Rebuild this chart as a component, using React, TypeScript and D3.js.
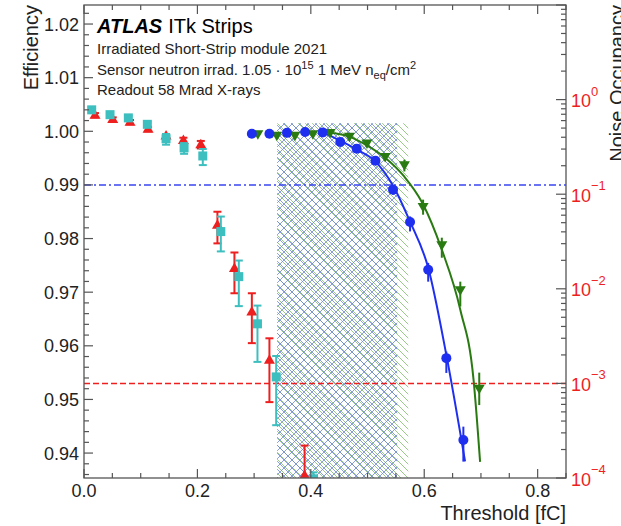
import React from 'react';
import * as d3 from 'd3';

const W = 621;
const H = 526;
const PL = 84, PR = 566, PT = 5, PB = 478;

// Axis ticks
const xMajor = [0, 0.2, 0.4, 0.6, 0.8];
const xMajorLabels = ['0.0', '0.2', '0.4', '0.6', '0.8'];
const yMajor = [0.94, 0.95, 0.96, 0.97, 0.98, 0.99, 1.0, 1.01, 1.02];
const yMajorLabels = ['0.94', '0.95', '0.96', '0.97', '0.98', '0.99', '1.00', '1.01', '1.02'];
const rightExps = [-4, -3, -2, -1, 0];
const rightExpLabels = ['\u22124', '\u22123', '\u22122', '\u22121', '0'];

// Efficiency: cyan squares
const cyanX = [0.0136, 0.0459, 0.0782, 0.1117, 0.1447, 0.1765, 0.2095, 0.2413, 0.273, 0.3059, 0.3389, 0.4047];
const cyanY = [1.004, 1.0031, 1.0025, 1.0013, 0.9986, 0.9969, 0.9954, 0.9813, 0.9729, 0.9641, 0.9542, 0.9352];
const cyanErrHi = [0.0005, 0.0004, 0.0004, 0.0004, 0.0009, 0.0009, 0.0013, 0.0028, 0.003, 0.0034, 0.0039, 0.0012];
const cyanErrLo = [0.0005, 0.0004, 0.0004, 0.0004, 0.0011, 0.0011, 0.0017, 0.0037, 0.0055, 0.0071, 0.009, 0.01];

// Efficiency: red triangles
const redX = [0.0194, 0.0507, 0.0812, 0.113, 0.1447, 0.1753, 0.206, 0.2353, 0.2653, 0.296, 0.327, 0.389];
const redY = [1.003, 1.0022, 1.0017, 1.0004, 0.9991, 0.9983, 0.9975, 0.9825, 0.9744, 0.9663, 0.9573, 0.9358];
const redErrHi = [0.0004, 0.0004, 0.0004, 0.0004, 0.0004, 0.0005, 0.0007, 0.0025, 0.003, 0.0035, 0.0041, 0.0056];
const redErrLo = [0.0004, 0.0004, 0.0004, 0.0004, 0.0004, 0.0005, 0.0007, 0.0034, 0.0046, 0.0058, 0.0078, 0.01];

// Noise occupancy: blue circles
const blueX = [0.296, 0.327, 0.358, 0.39, 0.421, 0.452, 0.481, 0.514, 0.545, 0.575, 0.607, 0.639, 0.669];
const blueY = [0.436, 0.436, 0.445, 0.455, 0.45, 0.356, 0.303, 0.226, 0.1117, 0.0508, 0.0159, 0.00185, 0.000252];
const blueHi = [0.436, 0.436, 0.445, 0.455, 0.45, 0.356, 0.303, 0.226, 0.123, 0.0582, 0.0188, 0.00217, 0.000349];
const blueLo = [0.436, 0.436, 0.445, 0.455, 0.45, 0.356, 0.303, 0.226, 0.0988, 0.0404, 0.0119, 0.00129, 0.000149];

// Noise occupancy: green triangles
const greenX = [0.3066, 0.34, 0.372, 0.4036, 0.434, 0.468, 0.499, 0.531, 0.565, 0.598, 0.631, 0.6636, 0.697];
const greenY = [0.436, 0.421, 0.421, 0.436, 0.45, 0.411, 0.348, 0.251, 0.205, 0.0743, 0.0292, 0.00975, 0.000889];
const greenHi = [0.436, 0.421, 0.421, 0.436, 0.45, 0.411, 0.348, 0.251, 0.2318, 0.0876, 0.0347, 0.0119, 0.0013];
const greenLo = [0.436, 0.421, 0.421, 0.436, 0.45, 0.411, 0.348, 0.251, 0.174, 0.0607, 0.0213, 0.0065, 0.00059];

// Fit curves
const blueFitX = [0.421, 0.452, 0.481, 0.514, 0.545, 0.575, 0.607, 0.639, 0.672];
const blueFitY = [0.45, 0.368, 0.296, 0.221, 0.123, 0.0512, 0.0167, 0.002, 0.00015];
const greenFitX = [0.434, 0.468, 0.4995, 0.531, 0.565, 0.5965, 0.631, 0.6636, 0.687, 0.6985];
const greenFitY = [0.445, 0.406, 0.326, 0.243, 0.153, 0.0813, 0.0259, 0.006, 0.00109, 0.000148];

// Shaded threshold windows
const hatchStart = 0.3406;
const blueHatchEnd = 0.5524;
const greenHatchEnd = 0.5718;
const hatchTop = 1.0015;

// Reference lines
const effRef = 0.99;
const noiseRef = 1e-3;

const FONT = '"Liberation Sans", Arial, Helvetica, sans-serif';
const CYAN = '#3dbfbf';
const RED = '#ee1f1f';
const BLUE = '#1f2ff0';
const GREEN = '#2a7a12';
const FRAME = '#555555';

export default function App() {
  const x = d3.scaleLinear().domain([0, 0.85]).range([PL, PR]);
  const yL = d3.scaleLinear().domain([0.93535, 1.02355]).range([PB, PT]);
  const yR = d3.scaleLog().domain([1e-4, 10]).range([PB, PT]);

  const xMinor = d3.range(0, 0.851, 0.05).filter((v) => !xMajor.some((m) => Math.abs(m - v) < 1e-6));
  const yMinor = d3.range(0.936, 1.0235, 0.002).filter((v) => !yMajor.some((m) => Math.abs(m - v) < 1e-6));
  const rMinor: number[] = [];
  for (let e = -4; e < 1; e++) for (let k = 2; k <= 9; k++) rMinor.push(k * Math.pow(10, e));

  const lineGen = d3
    .line<[number, number]>()
    .x((d) => x(d[0]))
    .y((d) => yR(d[1]))
    .curve(d3.curveMonotoneX);

  const blueFit = lineGen(blueFitX.map((v, i) => [v, blueFitY[i]] as [number, number])) || '';
  const greenFit = lineGen(greenFitX.map((v, i) => [v, greenFitY[i]] as [number, number])) || '';

  const cap = 4;
  const tri = (cx: number, cy: number, up: boolean) => {
    const s = up ? 1 : -1;
    return `M${cx},${cy - 6 * s}L${cx + 5.5},${cy + 3.5 * s}L${cx - 5.5},${cy + 3.5 * s}Z`;
  };

  const hx0 = x(hatchStart);
  const hy0 = yL(hatchTop);

  return (
    <svg width={W} height={H} style={{ position: 'absolute', left: 0, top: 0, background: '#fff' }} fontFamily={FONT}>
      <defs>
        <clipPath id="plotClip">
          <rect x={PL} y={PT} width={PR - PL} height={PB - PT} />
        </clipPath>
        <pattern id="greenHatch" patternUnits="userSpaceOnUse" width={7} height={7}>
          <path d="M0,0L7,7M-1,6L1,8M6,-1L8,1" stroke="#8cc47a" strokeWidth={0.9} fill="none" />
        </pattern>
        <pattern id="blueCross" patternUnits="userSpaceOnUse" width={8} height={8}>
          <path d="M0,0L8,8M0,8L8,0" stroke="#6a84d2" strokeWidth={0.8} fill="none" />
        </pattern>
      </defs>

      <g clipPath="url(#plotClip)">
        {/* hatched regions */}
        <rect x={hx0} y={hy0} width={x(greenHatchEnd) - hx0} height={PB - hy0} fill="url(#greenHatch)" />
        <rect x={hx0} y={hy0} width={x(blueHatchEnd) - hx0} height={PB - hy0} fill="url(#blueCross)" />

        {/* reference lines */}
        <line x1={PL} x2={PR} y1={yL(effRef)} y2={yL(effRef)} stroke="#3a46f0" strokeWidth={1.5} strokeDasharray="7,3,2,3" />
        <line x1={PL} x2={PR} y1={yR(noiseRef)} y2={yR(noiseRef)} stroke={RED} strokeWidth={1.5} strokeDasharray="6,3" />

        {/* fits */}
        <path d={blueFit} fill="none" stroke={BLUE} strokeWidth={2} />
        <path d={greenFit} fill="none" stroke={GREEN} strokeWidth={2} />

        {/* red triangles */}
        {redX.map((v, i) => {
          const cx = x(v);
          const y1 = yL(redY[i] + redErrHi[i]);
          const y2 = yL(redY[i] - redErrLo[i]);
          return (
            <g key={'r' + i} stroke={RED} strokeWidth={2}>
              <line x1={cx} x2={cx} y1={y1} y2={y2} />
              <line x1={cx - cap} x2={cx + cap} y1={y1} y2={y1} />
              <line x1={cx - cap} x2={cx + cap} y1={y2} y2={y2} />
              <path d={tri(cx, yL(redY[i]), true)} fill={RED} stroke="none" />
            </g>
          );
        })}

        {/* cyan squares */}
        {cyanX.map((v, i) => {
          const cx = x(v);
          const y1 = yL(cyanY[i] + cyanErrHi[i]);
          const y2 = yL(cyanY[i] - cyanErrLo[i]);
          const cy = yL(cyanY[i]);
          return (
            <g key={'c' + i} stroke={CYAN} strokeWidth={2}>
              <line x1={cx} x2={cx} y1={y1} y2={y2} />
              <line x1={cx - cap} x2={cx + cap} y1={y1} y2={y1} />
              <line x1={cx - cap} x2={cx + cap} y1={y2} y2={y2} />
              <rect x={cx - 4.5} y={cy - 4.5} width={9} height={9} fill={CYAN} stroke="none" />
            </g>
          );
        })}

        {/* green triangles */}
        {greenX.map((v, i) => {
          const cx = x(v);
          return (
            <g key={'g' + i}>
              <line x1={cx} x2={cx} y1={yR(greenHi[i])} y2={yR(greenLo[i])} stroke={GREEN} strokeWidth={2} />
              <path d={tri(cx, yR(greenY[i]), false)} fill={GREEN} />
            </g>
          );
        })}

        {/* blue circles */}
        {blueX.map((v, i) => {
          const cx = x(v);
          return (
            <g key={'b' + i}>
              <line x1={cx} x2={cx} y1={yR(blueHi[i])} y2={yR(blueLo[i])} stroke={BLUE} strokeWidth={2} />
              <circle cx={cx} cy={yR(blueY[i])} r={5} fill={BLUE} />
            </g>
          );
        })}
      </g>

      {/* frame */}
      <rect x={PL} y={PT} width={PR - PL} height={PB - PT} fill="none" stroke={FRAME} strokeWidth={1.3} />

      {/* x ticks bottom & top */}
      {xMajor.map((v) => (
        <g key={'xm' + v} stroke={FRAME} strokeWidth={1.2}>
          <line x1={x(v)} x2={x(v)} y1={PB} y2={PB - 9} />
          <line x1={x(v)} x2={x(v)} y1={PT} y2={PT + 9} />
        </g>
      ))}
      {xMinor.map((v) => (
        <g key={'xn' + v} stroke={FRAME} strokeWidth={1.2}>
          <line x1={x(v)} x2={x(v)} y1={PB} y2={PB - 5} />
          <line x1={x(v)} x2={x(v)} y1={PT} y2={PT + 5} />
        </g>
      ))}
      {xMajor.map((v, i) => (
        <text key={'xl' + v} x={x(v)} y={497} fontSize={18} textAnchor="middle" fill="#222">
          {xMajorLabels[i]}
        </text>
      ))}
      <text x={PR} y={520} fontSize={20} textAnchor="end" fill="#222">
        Threshold [fC]
      </text>

      {/* left ticks */}
      {yMajor.map((v, i) => (
        <g key={'yl' + v}>
          <line x1={PL} x2={PL + 9} y1={yL(v)} y2={yL(v)} stroke={FRAME} strokeWidth={1.2} />
          <text x={79} y={yL(v) + 6.5} fontSize={18} textAnchor="end" fill="#222">
            {yMajorLabels[i]}
          </text>
        </g>
      ))}
      {yMinor.map((v) => (
        <line key={'yn' + v} x1={PL} x2={PL + 5} y1={yL(v)} y2={yL(v)} stroke={FRAME} strokeWidth={1.2} />
      ))}
      <text transform="translate(38,5) rotate(-90)" fontSize={20} textAnchor="end" fill="#222">
        Efficiency
      </text>

      {/* right log ticks */}
      {[-4, -3, -2, -1, 0, 1].map((e) => (
        <line key={'rm' + e} x1={PR} x2={PR - 10} y1={yR(Math.pow(10, e))} y2={yR(Math.pow(10, e))} stroke={FRAME} strokeWidth={1.2} />
      ))}
      {rMinor.map((v, i) => (
        <line key={'rn' + i} x1={PR} x2={PR - 5} y1={yR(v)} y2={yR(v)} stroke={FRAME} strokeWidth={1.2} />
      ))}
      {rightExps.map((e, i) => (
        <g key={'rl' + e} fill={RED}>
          <text x={571} y={yR(Math.pow(10, e)) + 7.5} fontSize={18}>
            10
          </text>
          <text x={591} y={yR(Math.pow(10, e)) - 4} fontSize={13}>
            {rightExpLabels[i]}
          </text>
        </g>
      ))}
      <text transform="translate(624,5) rotate(-90)" fontSize={20} textAnchor="end" fill="#222">
        Noise Occupancy
      </text>

      {/* labels */}
      <text x={97} y={33} fontSize={20} fill="#000">
        <tspan fontWeight="bold" fontStyle="italic">ATLAS</tspan>
        <tspan dx={6}>ITk Strips</tspan>
      </text>
      <text x={97} y={54} fontSize={15} fill="#222">
        Irradiated Short-Strip module 2021
      </text>
      <text x={97} y={74.5} fontSize={15} fill="#222">
        <tspan>Sensor neutron irrad. 1.05 · 10</tspan>
        <tspan fontSize={11} dy={-6}>15</tspan>
        <tspan dy={6}> 1 MeV n</tspan>
        <tspan fontSize={11} dy={4}>eq</tspan>
        <tspan dy={-4}>/cm</tspan>
        <tspan fontSize={11} dy={-6}>2</tspan>
      </text>
      <text x={97} y={94.5} fontSize={15} fill="#222">
        Readout 58 Mrad X-rays
      </text>
    </svg>
  );
}
